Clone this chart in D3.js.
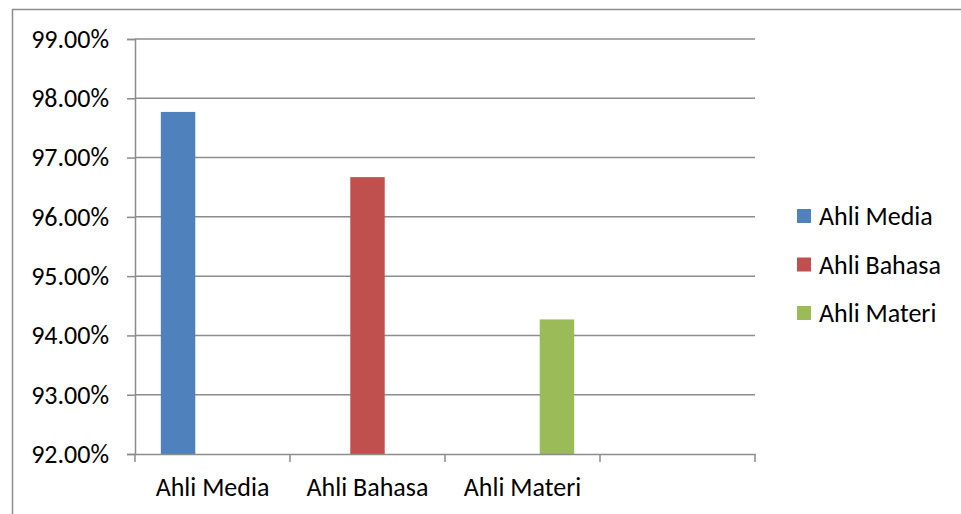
<!DOCTYPE html>
<html>
<head>
<meta charset="utf-8">
<script src="https://cdn.jsdelivr.net/npm/d3@7"></script>
<style>
  html, body { margin: 0; padding: 0; background: #fff; }
  svg { display: block; }
  text { font-family: Calibri, Carlito, Lato, "Open Sans", sans-serif; fill: #000; }
</style>
</head>
<body>
<svg id="chart" width="961" height="514"></svg>
<script>
const categories = ["Ahli Media", "Ahli Bahasa", "Ahli Materi", ""];
const seriesNames = ["Ahli Media", "Ahli Bahasa", "Ahli Materi"];
const seriesColors = ["#4F81BD", "#C0504D", "#9BBB59"];
// each series has a value only in its own category
const seriesValues = [
  [97.77, null, null, null],
  [null, 96.67, null, null],
  [null, null, 94.27, null]
];
const yTicks = [92, 93, 94, 95, 96, 97, 98, 99];

const svg = d3.select("#chart");
const W = 961, H = 514;
const plotLeft = 135, plotRight = 755, plotTop = 39, plotBottom = 454;
const FS = 26;
const FONT = "Calibri, Carlito, Lato, sans-serif";

// outer border
svg.append("rect")
  .attr("x", 12.5).attr("y", 9.5)
  .attr("width", W).attr("height", H)
  .attr("fill", "none").attr("stroke", "#8c8c8c").attr("stroke-width", 1.5);

const x = d3.scaleBand().domain(d3.range(categories.length))
  .range([plotLeft, plotRight]).paddingInner(0).paddingOuter(0);
const y = d3.scaleLinear().domain([92, 99]).range([plotBottom, plotTop]);

const inner = d3.scaleBand().domain(d3.range(seriesNames.length))
  .range([0, x.bandwidth()]).paddingOuter(0.75).paddingInner(0);

// gridlines
svg.append("g").selectAll("line").data(yTicks.slice(1)).join("line")
  .attr("x1", plotLeft).attr("x2", plotRight)
  .attr("y1", d => y(d)).attr("y2", d => y(d))
  .attr("stroke", "#8c8c8c").attr("stroke-width", 1.5);

// bars
seriesValues.forEach((vals, si) => {
  svg.append("g").selectAll("rect")
    .data(vals.map((v, ci) => ({ v, ci })).filter(d => d.v != null))
    .join("rect")
    .attr("x", d => x(d.ci) + inner(si))
    .attr("width", inner.bandwidth())
    .attr("y", d => y(d.v))
    .attr("height", d => y(92) - y(d.v))
    .attr("fill", seriesColors[si]);
});

// y axis
const yAxis = d3.axisLeft(y).tickValues(yTicks).tickSize(8).tickPadding(18)
  .tickFormat(d => d.toFixed(2) + "%");
const gy = svg.append("g").attr("transform", `translate(${plotLeft},0)`).call(yAxis);
gy.select(".domain").attr("stroke", "#8c8c8c").attr("stroke-width", 1.5);
gy.selectAll(".tick line").attr("stroke", "#8c8c8c").attr("stroke-width", 1.5);
gy.selectAll("text").attr("font-size", FS).attr("fill", "#000")
  .style("font-family", FONT);

// x axis
const xAxis = d3.axisBottom(x).tickSize(0).tickPadding(0).tickFormat(i => categories[i]);
const gx = svg.append("g").attr("transform", `translate(0,${plotBottom})`).call(xAxis);
gx.select(".domain").attr("stroke", "#8c8c8c").attr("stroke-width", 1.5);
gx.selectAll(".tick text").attr("font-size", FS).attr("fill", "#000")
  .attr("dy", 0).attr("y", 42)
  .style("font-family", FONT);
// category boundary ticks
const bounds = d3.range(categories.length + 1).map(i => i === categories.length ? plotRight : x(i));
gx.append("g").selectAll("line").data(bounds).join("line")
  .attr("x1", d => d).attr("x2", d => d).attr("y1", 0).attr("y2", 8)
  .attr("stroke", "#8c8c8c").attr("stroke-width", 1.5);

// legend
const legend = svg.append("g");
seriesNames.forEach((name, i) => {
  const cy = 216 + i * 48.5;
  legend.append("rect").attr("x", 797).attr("y", cy - 7).attr("width", 14).attr("height", 14)
    .attr("fill", seriesColors[i]);
  legend.append("text").attr("x", 819).attr("y", cy).attr("dy", "0.35em")
    .attr("font-size", FS).style("font-family", FONT).text(name);
});
</script>
</body>
</html>
